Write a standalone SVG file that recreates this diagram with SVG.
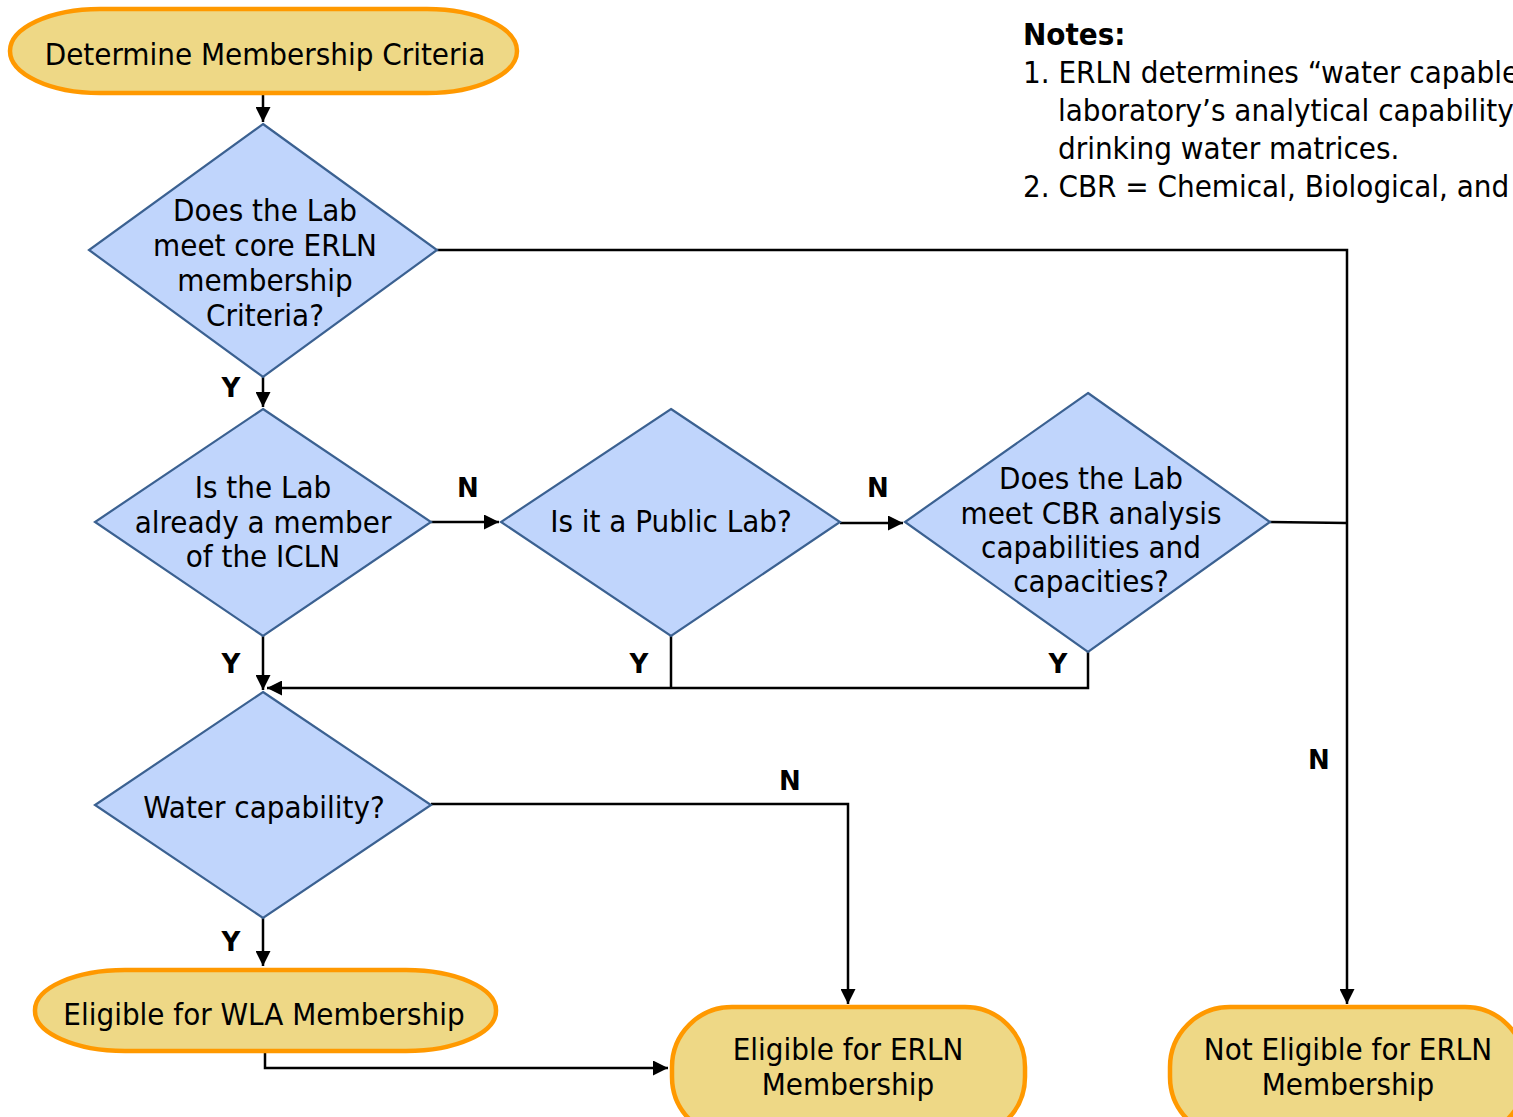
<svg xmlns="http://www.w3.org/2000/svg" width="1513" height="1117" viewBox="0 0 1513 1117">
<defs>
<style>
.term{fill:#EED886;stroke:#FF9900;stroke-width:4.5}
.dec{fill:#C0D5FC;stroke:#3B6191;stroke-width:2.2}
.t{font-family:"DejaVu Sans Condensed","DejaVu Sans",sans-serif;font-size:31px;fill:#000;text-anchor:middle}
.lbl{font-family:"DejaVu Sans","Liberation Sans",sans-serif;font-size:26px;font-weight:bold;fill:#000;text-anchor:middle}
.note{font-family:"DejaVu Sans Condensed","DejaVu Sans",sans-serif;font-size:31px;fill:#000}
.c{fill:none;stroke:#000;stroke-width:2.5}
</style>
<marker id="ah" viewBox="0 0 10 10" refX="10" refY="5" markerWidth="6" markerHeight="6" orient="auto" markerUnits="strokeWidth">
<path d="M0,0 L10,5 L0,10 z" fill="#000"/>
</marker>
</defs>
<rect width="1513" height="1117" fill="#fff"/>

<g id="connectors">
<path class="c" d="M263,95 V122" marker-end="url(#ah)"/>
<path class="c" d="M263,377 V407" marker-end="url(#ah)"/>
<path class="c" d="M431,522 H499" marker-end="url(#ah)"/>
<path class="c" d="M840,523 H903" marker-end="url(#ah)"/>
<path class="c" d="M437,250 H1347 V1004" marker-end="url(#ah)"/>
<path class="c" d="M1270,522 L1347,523"/>
<path class="c" d="M263,636 V690" marker-end="url(#ah)"/>
<path class="c" d="M671,636 V688"/>
<path class="c" d="M1088,652 V688 H267" marker-end="url(#ah)"/>
<path class="c" d="M431,804 H848 V1004" marker-end="url(#ah)"/>
<path class="c" d="M263,918 V966" marker-end="url(#ah)"/>
<path class="c" d="M265,1051 V1068 H668" marker-end="url(#ah)"/>
</g>

<g id="labels">
<text class="lbl" x="231" y="397">Y</text>
<text class="lbl" x="468" y="497">N</text>
<text class="lbl" x="878" y="497">N</text>
<text class="lbl" x="231" y="673">Y</text>
<text class="lbl" x="639" y="673">Y</text>
<text class="lbl" x="1058" y="673">Y</text>
<text class="lbl" x="790" y="790">N</text>
<text class="lbl" x="1319" y="769">N</text>
<text class="lbl" x="231" y="951">Y</text>
</g>

<g id="start">
<rect class="term" x="10" y="9" width="507" height="84" rx="90" ry="42"/>
<text class="t" x="265" y="65">Determine Membership Criteria</text>
</g>

<g id="d1">
<polygon class="dec" points="263,124 437,250 263,377 89,250"/>
<text class="t" x="265" y="221">Does the Lab</text>
<text class="t" x="265" y="256">meet core ERLN</text>
<text class="t" x="265" y="291">membership</text>
<text class="t" x="265" y="326">Criteria?</text>
</g>

<g id="d2">
<polygon class="dec" points="263,409 431,522 263,636 95,522"/>
<text class="t" x="263" y="498">Is the Lab</text>
<text class="t" x="263" y="533">already a member</text>
<text class="t" x="263" y="567">of the ICLN</text>
</g>

<g id="d3">
<polygon class="dec" points="671,409 840,522 671,636 501,522"/>
<text class="t" x="671" y="532">Is it a Public Lab?</text>
</g>

<g id="d4">
<polygon class="dec" points="1088,393 1270,522 1088,652 905,522"/>
<text class="t" x="1091" y="489">Does the Lab</text>
<text class="t" x="1091" y="524">meet CBR analysis</text>
<text class="t" x="1091" y="558">capabilities and</text>
<text class="t" x="1091" y="592">capacities?</text>
</g>

<g id="d5">
<polygon class="dec" points="263,692 431,805 263,918 95,805"/>
<text class="t" x="264" y="818">Water capability?</text>
</g>

<g id="wla">
<rect class="term" x="35" y="970" width="461" height="81" rx="90" ry="40"/>
<text class="t" x="264" y="1025">Eligible for WLA Membership</text>
</g>

<g id="erln">
<rect class="term" x="672" y="1007" width="353" height="130" rx="60" ry="60"/>
<text class="t" x="848" y="1060">Eligible for ERLN</text>
<text class="t" x="848" y="1095">Membership</text>
</g>

<g id="noterln">
<rect class="term" x="1170" y="1007" width="355" height="130" rx="60" ry="60"/>
<text class="t" x="1348" y="1060">Not Eligible for ERLN</text>
<text class="t" x="1348" y="1095">Membership</text>
</g>

<g id="notes">
<text class="note" x="1023" y="45" font-weight="bold">Notes:</text>
<text class="note" x="1023" y="83">1. ERLN determines “water capable</text>
<text class="note" x="1058" y="121">laboratory’s analytical capability</text>
<text class="note" x="1058" y="159">drinking water matrices.</text>
<text class="note" x="1023" y="197">2. CBR = Chemical, Biological, and</text>
</g>
</svg>
